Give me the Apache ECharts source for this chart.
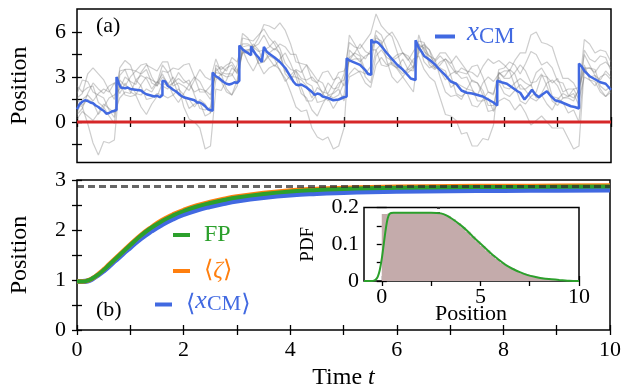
<!DOCTYPE html>
<html><head><meta charset="utf-8">
<script src="https://cdn.jsdelivr.net/npm/echarts@6/dist/echarts.min.js"></script>
<style>html,body{margin:0;padding:0;background:#fff}#c{width:624px;height:391px}</style>
</head><body><div id="c"></div>
<script>
// ---- Panel (a): centre of mass trajectory ----
const cmT = [0,0.05,0.1,0.15,0.2,0.25,0.3,0.35,0.4,0.45,0.5,0.55,0.6,0.65,0.7,0.74,0.74,0.78,0.82,0.9,0.95,1.0,1.1,1.2,1.25,1.3,1.4,1.45,1.5,1.55,1.6,1.6,1.65,1.7,1.75,1.8,1.85,1.9,1.95,2.0,2.05,2.1,2.15,2.2,2.25,2.3,2.35,2.4,2.45,2.5,2.54,2.54,2.6,2.65,2.7,2.75,2.8,2.85,2.9,2.95,3.0,3.04,3.04,3.1,3.15,3.2,3.26,3.26,3.3,3.35,3.4,3.46,3.5,3.55,3.6,3.7,3.8,3.9,4.0,4.05,4.1,4.15,4.2,4.3,4.4,4.45,4.5,4.55,4.6,4.7,4.8,4.9,5.0,5.05,5.05,5.1,5.2,5.3,5.4,5.45,5.51,5.51,5.55,5.6,5.65,5.7,5.8,5.9,6.0,6.1,6.2,6.25,6.34,6.34,6.4,6.45,6.5,6.6,6.7,6.8,6.9,7.0,7.1,7.2,7.3,7.4,7.5,7.6,7.7,7.8,7.87,7.87,7.95,8.05,8.15,8.25,8.3,8.38,8.45,8.52,8.58,8.65,8.72,8.8,8.88,8.95,9.05,9.15,9.25,9.32,9.4,9.4,9.45,9.5,9.6,9.7,9.8,9.9,10];
const cmV = [0.85,1.2,1.35,1.45,1.4,1.3,1.25,1.1,1.0,0.85,0.75,0.55,0.6,0.7,0.75,0.8,3.0,2.6,2.3,2.25,2.3,2.2,2.15,2.1,1.95,1.85,1.75,1.7,1.75,1.65,1.8,2.75,2.7,2.4,2.3,2.15,2.05,1.9,1.75,1.65,1.6,1.55,1.5,1.45,1.3,1.3,1.2,1.05,0.85,0.8,0.75,3.3,3.05,2.95,2.8,2.65,2.55,2.5,2.55,2.65,2.6,2.75,5.1,4.85,4.7,4.6,4.45,5.05,4.75,4.5,4.3,4.0,5.0,4.7,4.55,4.3,4.0,3.6,3.0,2.7,2.5,2.45,2.5,2.3,2.0,1.8,1.9,1.85,1.7,1.6,1.45,1.5,1.65,1.7,4.25,4.1,3.95,3.8,3.45,3.2,3.15,5.5,5.3,5.35,5.25,5.05,4.6,4.2,3.8,3.5,3.1,2.9,2.8,5.45,4.95,4.7,4.4,4.15,3.85,3.45,3.1,2.7,2.55,2.1,1.95,1.9,1.8,1.7,1.5,1.3,1.1,2.75,2.65,2.55,2.3,2.05,1.95,1.5,1.8,2.15,1.85,1.65,1.85,2.05,1.7,1.45,1.35,1.2,1.05,1.0,0.9,3.9,3.7,3.4,3.05,2.85,2.65,2.55,2.15];

// individual particle trajectories, sampled every 0.1 (t = 0 ... 10)
const grayStep = 0.1;
const gray1 = [1.2,1.0,-0.1,-1.4,-2.2,-1.3,-1.4,-1.2,2.8,2.4,3.0,3.4,3.2,3.5,2.6,2.4,3.0,2.6,1.8,1.3,1.9,2.5,2.0,2.2,2.1,1.8,3.3,3.2,2.2,1.8,2.4,5.0,5.1,5.0,5.2,5.8,5.1,4.8,5.2,5.0,4.5,4.5,3.5,2.6,2.4,1.3,1.4,1.6,0.9,1.5,1.8,4.3,4.6,5.2,4.7,4.5,6.1,5.8,4.9,3.8,3.6,4.2,3.5,3.4,5.8,4.7,4.4,4.2,3.0,2.0,1.7,1.8,1.5,2.2,2.1,1.8,2.6,3.0,2.7,3.2,3.4,3.4,2.4,1.4,1.2,1.7,2.0,3.1,3.0,2.6,2.9,2.0,2.2,2.2,1.5,3.0,2.8,2.7,2.0,1.7,2.2];
const gray2 = [0.5,0.9,1.9,2.6,2.2,1.9,2.4,2.6,1.9,2.6,2.0,1.8,2.5,3.0,2.8,2.6,3.2,2.5,3.0,2.4,1.0,0.2,0.0,-0.4,-1.8,-1.6,2.2,2.1,2.8,3.6,3.3,4.8,4.8,4.8,3.9,3.2,3.6,3.8,3.5,2.7,3.1,3.5,3.3,3.8,3.3,2.8,2.6,1.8,1.9,2.2,1.4,3.0,3.2,3.4,3.2,3.7,5.8,5.2,5.7,6.0,5.4,4.6,4.1,4.7,5.2,4.0,3.6,3.8,3.4,2.8,3.2,3.4,3.3,3.2,3.7,3.8,3.0,2.0,1.9,3.0,2.3,2.2,2.6,2.9,2.6,2.4,3.3,3.6,3.0,1.7,1.6,1.3,0.6,0.8,0.0,3.6,3.6,3.3,3.8,4.0,3.6];
const gray3 = [1.9,2.8,2.7,2.0,1.8,1.6,0.8,0.3,3.6,4.1,3.8,2.8,3.1,2.9,2.2,2.7,2.4,2.2,2.6,3.3,2.8,2.5,3.0,2.7,2.0,1.5,3.4,3.7,3.4,4.3,4.0,5.2,5.2,5.0,5.6,6.5,6.4,6.2,6.6,6.1,5.2,4.0,3.9,3.8,2.8,2.6,1.9,1.4,2.0,2.6,2.8,4.1,4.2,4.2,3.0,2.6,4.4,4.8,4.3,4.1,4.3,4.6,4.2,3.6,5.2,4.9,3.8,3.5,3.8,4.2,3.7,3.2,3.6,3.4,2.7,2.6,1.8,0.7,0.8,3.3,2.9,2.9,3.3,3.8,3.4,2.6,2.7,3.2,2.4,1.4,1.1,1.6,1.6,1.4,2.2,4.5,3.8,3.1,2.8,3.4,3.0];
const gray4 = [1.5,1.1,1.5,1.3,0.5,1.0,0.4,-0.1,3.1,3.5,3.5,3.4,3.8,3.9,3.0,2.4,3.4,3.3,2.4,2.6,2.4,2.1,2.8,3.5,3.0,2.8,4.2,3.3,3.2,3.2,2.6,4.8,4.0,3.4,4.1,4.8,5.0,5.4,4.9,3.9,3.5,3.4,2.3,1.4,1.4,1.9,1.8,2.6,2.2,2.3,3.2,5.3,5.0,4.9,5.4,5.9,7.2,6.4,6.0,5.7,4.6,3.4,3.3,3.6,4.6,5.0,4.4,4.0,4.4,4.0,3.1,1.9,1.7,2.0,1.1,1.0,1.5,2.0,1.8,3.5,3.6,4.0,3.8,3.2,3.9,4.7,4.5,3.8,4.0,3.6,2.7,2.6,1.8,1.6,2.1,3.8,2.8,2.4,3.0,3.2,2.8];
const gray5 = [0.6,1.5,1.8,1.4,1.9,2.2,2.0,2.6,2.6,1.8,1.7,1.8,1.0,0.5,1.2,1.7,2.6,2.4,2.6,2.9,2.6,2.8,1.8,0.9,0.8,1.0,3.6,3.1,3.6,3.8,3.2,4.6,4.6,5.2,4.8,4.0,4.4,4.2,3.4,2.9,2.0,1.0,0.7,0.8,-0.4,-1.0,-1.2,-1.0,-1.8,-1.6,-0.4,4.8,4.4,4.0,4.4,4.6,5.6,5.4,4.1,3.0,2.6,3.0,2.5,2.0,5.0,5.1,4.8,3.6,3.6,3.4,2.3,2.6,2.4,2.2,2.8,2.6,2.1,1.1,1.1,2.6,1.9,1.7,2.1,2.5,2.1,1.6,1.4,1.8,1.2,0.8,1.5,1.9,1.7,2.2,2.3,3.5,3.6,3.5,2.4,2.1,2.4];
const gray6 = [1.6,1.9,3.2,3.6,3.2,2.8,2.1,1.5,3.4,3.5,2.6,1.9,1.8,2.2,2.0,2.6,3.8,3.3,3.6,3.5,3.8,3.9,3.0,2.0,2.0,2.4,3.0,2.7,2.0,1.8,2.8,5.6,5.5,5.4,5.8,6.2,5.6,5.2,4.5,3.2,2.8,3.4,2.9,2.8,3.0,2.6,3.3,3.4,2.8,3.0,2.4,3.2,3.6,3.3,2.6,2.3,3.8,4.3,3.8,4.0,3.6,3.2,3.6,4.2,4.4,3.5,3.0,2.7,1.6,0.5,0.4,0.1,-0.8,-0.7,-1.6,-1.6,-1.1,-1.2,-0.2,3.3,3.0,3.5,3.2,2.2,2.2,2.5,1.6,1.9,2.6,2.8,2.4,1.6,1.7,1.9,1.1,4.8,4.2,4.0,4.4,4.3,3.4];
const gray7 = [0.2,0.7,0.4,0.1,0.6,1.2,0.9,0.6,1.6,2.0,1.9,2.8,2.4,1.5,1.6,1.9,1.8,1.6,1.8,2.2,1.8,0.9,1.2,1.3,0.4,0.6,3.8,3.5,3.8,4.0,3.4,4.6,4.8,5.0,3.9,4.0,4.6,4.9,4.6,3.4,3.0,3.0,1.9,1.6,0.8,0.4,1.2,1.8,1.6,1.8,2.6,5.8,5.2,4.5,4.2,4.8,4.8,3.8,3.7,3.9,3.5,3.0,3.5,3.7,4.8,5.2,4.8,4.1,4.6,4.6,4.1,3.3,2.9,3.0,2.2,1.4,1.4,1.6,0.7,1.4,1.6,1.4,0.8,1.2,0.6,-0.2,0.1,0.4,0.0,-0.4,-0.4,-0.4,-1.1,-1.8,-1.6,3.6,3.0,3.1,2.2,1.7,2.0];
const gray8 = [2.4,2.0,2.3,2.4,1.3,1.0,1.6,1.8,2.2,3.0,2.7,2.5,3.3,3.8,3.6,3.4,4.0,4.0,2.8,1.8,1.6,1.5,1.0,1.5,1.2,0.6,2.8,3.2,3.0,3.1,3.8,5.9,5.6,5.0,4.7,4.8,4.2,3.7,4.2,4.6,3.9,3.0,2.8,2.4,1.6,2.3,2.0,1.9,2.6,3.3,3.4,4.1,4.6,4.4,3.4,3.2,4.8,5.2,4.6,4.2,4.5,4.6,4.4,3.9,5.4,5.3,4.0,3.6,4.0,4.2,3.9,4.4,3.9,3.4,3.3,3.0,3.7,4.2,3.9,4.1,3.8,3.4,4.1,4.6,4.6,5.8,6.0,5.3,5.2,5.0,3.9,2.9,2.9,2.6,1.9,5.5,5.2,4.6,4.8,4.7,4.0];
const wallT = [0, 10];
const wallV = [0, 0];

// ---- Panel (b): mean positions ----
const tB = [0,0.1,0.2,0.3,0.4,0.5,0.6,0.7,0.8,0.9,1.0,1.2,1.4,1.6,1.8,2.0,2.25,2.5,2.75,3.0,3.5,4.0,4.5,5.0,5.5,6.0,7.0,8.0,9.0,10.0];
const fpV   = [0.97,0.97,0.99,1.04,1.11,1.2,1.3,1.4,1.5,1.6,1.7,1.89,2.05,2.18,2.29,2.38,2.47,2.54,2.6,2.65,2.72,2.77,2.8,2.82,2.835,2.845,2.855,2.86,2.865,2.87];
const zetaV = [0.97,0.97,0.99,1.04,1.12,1.21,1.31,1.41,1.51,1.61,1.71,1.9,2.06,2.2,2.31,2.4,2.49,2.56,2.62,2.67,2.74,2.79,2.82,2.84,2.855,2.865,2.875,2.88,2.885,2.89];
const xcmV  = [0.97,0.97,0.98,1.03,1.1,1.18,1.27,1.37,1.46,1.56,1.65,1.83,1.98,2.11,2.22,2.31,2.4,2.47,2.53,2.58,2.65,2.7,2.73,2.75,2.765,2.775,2.785,2.79,2.795,2.8];
const stationary = 2.87;

// ---- Inset: stationary PDF ----
const histX = [0,0,0.25,0.5,0.75,1,1.25,1.5,1.75,2,2.25,2.5,2.75,3,3.25,3.5,3.75,4,4.25,4.5,4.75,5,5.25,5.5,5.75,6,6.25,6.5,6.75,7,7.25,7.5,7.75,8,8.25,8.5,8.75,9,9.25,9.5,9.75,10];
const histV = [0,0.182,0.187,0.186,0.185,0.187,0.186,0.185,0.187,0.186,0.185,0.186,0.184,0.181,0.176,0.168,0.158,0.146,0.134,0.121,0.108,0.095,0.083,0.071,0.06,0.05,0.041,0.034,0.027,0.021,0.017,0.013,0.01,0.008,0.006,0.004,0.003,0.002,0.001,0.001,0.0005,0];
const pdfX = [-0.9,-0.5,-0.4,-0.3,-0.2,-0.1,0,0.1,0.2,0.3,0.4,0.6,1,1.5,2,2.5,3,3.3,3.6,4,4.3,4.6,5,5.3,5.6,6,6.3,6.6,7,7.4,7.8,8.2,8.6,9,9.5,10];
const pdfV = [0,0,0.001,0.004,0.012,0.03,0.06,0.1,0.14,0.17,0.183,0.186,0.186,0.186,0.186,0.186,0.184,0.178,0.168,0.152,0.138,0.122,0.102,0.087,0.072,0.055,0.043,0.034,0.024,0.016,0.011,0.007,0.005,0.003,0.001,0];
const edgeX = [2.03, 4.2, 6.37];
const edgeH = [0.186, 0.14, 0.042];
const meanPos = 2.88;

// tick positions / labels
const xTicks = [0,1,2,3,4,5,6,7,8,9,10];
const xLabels = [0,2,4,6,8,10];
const yaTicks = [-1.5,0,1.5,3,4.5,6];
const yaLabels = [0,3,6];
const ybTicks = [0,0.5,1,1.5,2,2.5,3];
const ybLabels = [0,1,2,3];
const ixTicks = [0,2.5,5,7.5,10];
const ixLabels = [0,5,10];
const iyTicks = [0,0.05,0.1,0.15,0.2];
const iyLabels = [0,0.1,0.2];

const SERIF = "'Liberation Serif','DejaVu Serif',serif";
const BLUE = '#4169e1', ORANGE = '#ff7f0e', GREEN = '#2ca02c', RED = '#d62728';
const zip = (a, b) => a.map((v, i) => [v, b[i]]);
const onGrid = (vals) => vals.map((v, i) => [Math.round(i * grayStep * 100) / 100, v]);

function ax(type, grid, pos, min, max, ticks, labels, extra, margin) {
  const o = {
    type: 'value', gridIndex: grid, position: pos, min: min, max: max,
    splitLine: {show: false},
    axisLine: {show: false},
    axisTick: {show: true, inside: true, length: 5, customValues: ticks, lineStyle: {color: '#000', width: 1.3}},
    axisLabel: labels ? {show: true, customValues: labels, color: '#000', fontFamily: SERIF, fontSize: 22,
      margin: margin != null ? margin : (type === 'x' ? 9 : 11)} : {show: false},
    axisPointer: {show: false}
  };
  return Object.assign(o, extra || {});
}

const gridStyle = {show: true, borderColor: '#000', borderWidth: 1.5, backgroundColor: 'transparent'};
const grays = [gray1, gray2, gray3, gray4, gray5, gray6, gray7, gray8];

const series = [];
grays.forEach((g, i) => series.push({
  type: 'line', name: 'p' + i, xAxisIndex: 0, yAxisIndex: 0, data: onGrid(g),
  symbol: 'none', silent: true, lineStyle: {color: 'rgba(120,120,120,0.37)', width: 1.2}, z: 1
}));
series.push({type: 'line', name: 'wall', xAxisIndex: 0, yAxisIndex: 0, data: zip(wallT, wallV), symbol: 'none',
  lineStyle: {color: RED, width: 3}, z: 3});
series.push({type: 'line', name: 'xcm', xAxisIndex: 0, yAxisIndex: 0, data: zip(cmT, cmV), symbol: 'none',
  color: BLUE, lineStyle: {color: BLUE, width: 2.5}, z: 4});

series.push({type: 'line', name: 'xcmavg', xAxisIndex: 2, yAxisIndex: 2, data: zip(tB, xcmV), symbol: 'none', smooth: true,
  color: BLUE, lineStyle: {color: BLUE, width: 5}, z: 2});
series.push({type: 'line', name: 'zeta', xAxisIndex: 2, yAxisIndex: 2, data: zip(tB, zetaV), symbol: 'none', smooth: true,
  color: ORANGE, lineStyle: {color: ORANGE, width: 4.5}, z: 3});
series.push({type: 'line', name: 'FP', xAxisIndex: 2, yAxisIndex: 2, data: zip(tB, fpV), symbol: 'none', smooth: true,
  color: GREEN, lineStyle: {color: GREEN, width: 4}, z: 4,
  markLine: {silent: true, symbol: 'none', label: {show: false}, animation: false,
    lineStyle: {color: 'rgba(45,45,45,0.72)', width: 3, type: [7, 4]}, data: [{yAxis: stationary}]}});

series.push({type: 'line', name: 'hist', xAxisIndex: 4, yAxisIndex: 4, data: zip(histX, histV), symbol: 'none', step: 'end',
  lineStyle: {width: 0}, areaStyle: {color: '#c4abab', opacity: 1}, z: 5,
  markLine: {silent: true, symbol: 'none', label: {show: false}, animation: false,
    lineStyle: {color: '#d4906a', width: 1, type: 'solid'},
    data: edgeX.map((x, i) => [{coord: [x, 0]}, {coord: [x, edgeH[i]]}])}});
series.push({type: 'line', name: 'pdf', xAxisIndex: 4, yAxisIndex: 4, data: zip(pdfX, pdfV), symbol: 'none', smooth: 0.3,
  lineStyle: {color: GREEN, width: 2}, z: 6,
  markLine: {silent: true, symbol: 'none', label: {show: false}, animation: false,
    lineStyle: {color: '#444', width: 3, type: [6, 3]}, data: [{xAxis: meanPos}]}});

const legendBase = {icon: 'rect', itemWidth: 17, itemHeight: 4, selectedMode: false, orient: 'vertical',
  backgroundColor: 'transparent', padding: 0};

const option = {
  animation: false,
  backgroundColor: '#fff',
  grid: [
    Object.assign({left: 77, top: 9, width: 534, height: 153.5}, gridStyle),
    Object.assign({left: 77, top: 180, width: 534, height: 153}, gridStyle),
    Object.assign({left: 364, top: 207.5, width: 215, height: 73.5}, gridStyle, {backgroundColor: '#fff'})
  ],
  xAxis: [
    ax('x', 0, 'bottom', 0, 10, xTicks, null),
    ax('x', 0, 'top', 0, 10, xTicks, null),
    ax('x', 1, 'bottom', 0, 10, xTicks, xLabels, {name: 'Time {i|t}', nameLocation: 'middle', nameGap: 36,
      nameTextStyle: {color: '#000', fontFamily: SERIF, fontSize: 24, rich: {i: {fontStyle: 'italic', fontFamily: SERIF, fontSize: 24, color: '#000'}}}}),
    ax('x', 1, 'top', 0, 10, xTicks, null),
    ax('x', 2, 'bottom', -0.9, 10, ixTicks, ixLabels, null, 5),
    ax('x', 2, 'top', -0.9, 10, ixTicks, null)
  ],
  yAxis: [
    ax('y', 0, 'left', -2.7, 7.53, yaTicks, yaLabels, {name: 'Position', nameLocation: 'middle', nameGap: 45,
      nameTextStyle: {color: '#000', fontFamily: SERIF, fontSize: 24}}),
    ax('y', 0, 'right', -2.7, 7.53, yaTicks, null),
    ax('y', 1, 'left', 0, 3, ybTicks, ybLabels, {name: 'Position', nameLocation: 'middle', nameGap: 45,
      nameTextStyle: {color: '#000', fontFamily: SERIF, fontSize: 24}}),
    ax('y', 1, 'right', 0, 3, ybTicks, null),
    ax('y', 2, 'left', 0, 0.2, iyTicks, iyLabels, {name: 'PDF', nameLocation: 'middle', nameGap: 46,
      nameTextStyle: {color: '#000', fontFamily: SERIF, fontSize: 19}}, 5),
    ax('y', 2, 'right', 0, 0.2, iyTicks, null)
  ],
  legend: [
    Object.assign({}, legendBase, {data: ['xcm'], left: 435, top: 19, itemWidth: 20,
      formatter: () => '{x|x}{s|CM}',
      textStyle: {padding: [0, 0, 0, 7], rich: {
        x: {fontFamily: SERIF, fontStyle: 'italic', fontSize: 27, color: BLUE, padding: [0, 0, 8, 0]},
        s: {fontFamily: SERIF, fontSize: 23, color: BLUE}}}}),
    Object.assign({}, legendBase, {data: ['FP'], left: 173, top: 223,
      formatter: () => 'FP',
      textStyle: {padding: [0, 0, 0, 9], fontFamily: SERIF, fontSize: 24, color: GREEN}}),
    Object.assign({}, legendBase, {data: ['zeta'], left: 173, top: 259,
      formatter: () => '{b|⟨}{z|ζ}{b|⟩}',
      textStyle: {padding: [0, 0, 0, 9], rich: {
        b: {fontFamily: SERIF, fontSize: 24, color: ORANGE},
        z: {fontFamily: SERIF, fontStyle: 'italic', fontSize: 24, color: ORANGE}}}}),
    Object.assign({}, legendBase, {data: ['xcmavg'], left: 155, top: 288,
      formatter: () => '{b|⟨}{x|x}{s|CM}{b|⟩}',
      textStyle: {padding: [0, 0, 0, 9], rich: {
        b: {fontFamily: SERIF, fontSize: 24, color: BLUE},
        x: {fontFamily: SERIF, fontStyle: 'italic', fontSize: 26, color: BLUE, padding: [0, 0, 7, 0]},
        s: {fontFamily: SERIF, fontSize: 22, color: BLUE}}}})
  ],
  graphic: [
    {type: 'text', left: 96, top: 15, z: 10, style: {text: '(a)', font: "22px 'Liberation Serif'", fill: '#000'}},
    {type: 'text', left: 96, top: 299, z: 10, style: {text: '(b)', font: "22px 'Liberation Serif'", fill: '#000'}},
    {type: 'text', x: 471, y: 303, z: 10, style: {text: 'Position', font: "22px 'Liberation Serif'", fill: '#000',
      align: 'center', verticalAlign: 'top'}}
  ],
  series: series
};

const chart = echarts.init(document.getElementById('c'), null, {renderer: 'canvas'});
chart.setOption(option);
</script></body></html>
